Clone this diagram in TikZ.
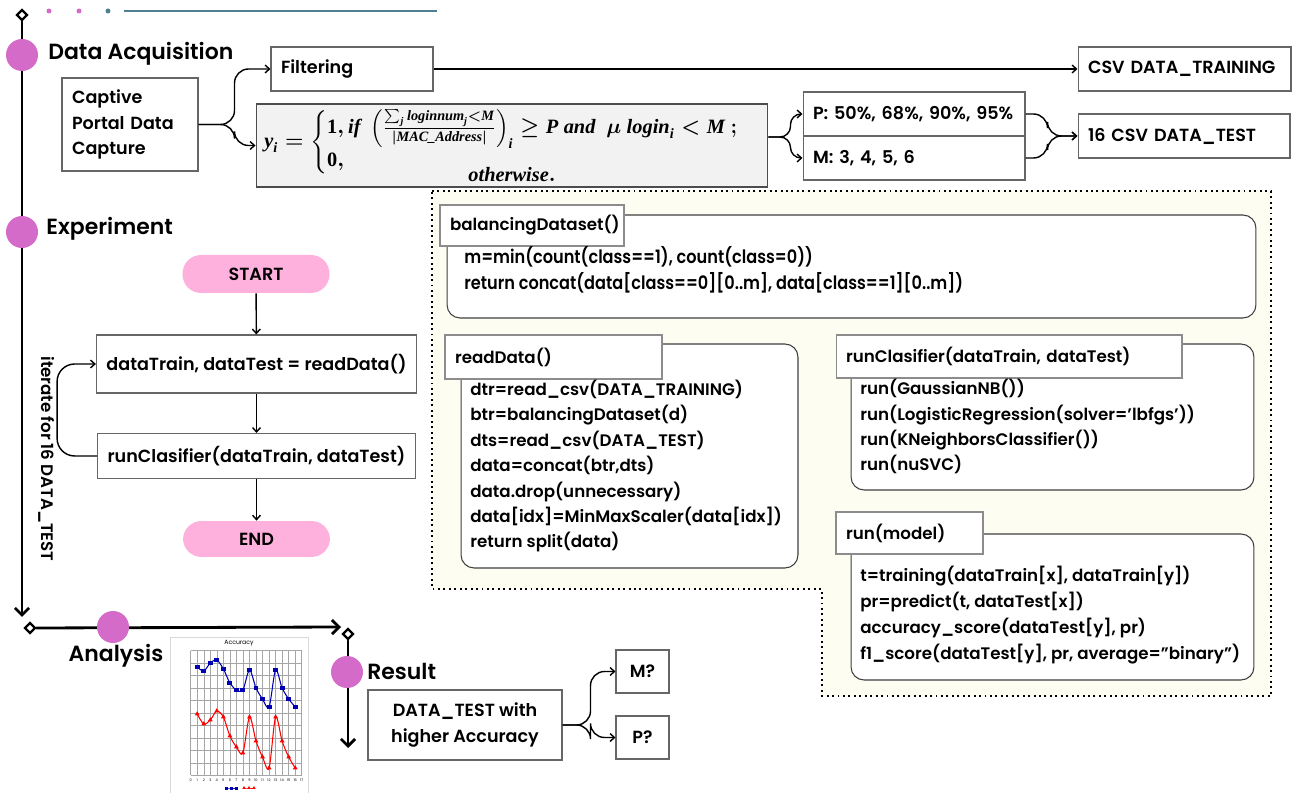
\documentclass[tikz,border=0pt]{standalone}
\usepackage[no-math]{fontspec}
\usepackage{amsmath}
\usepackage{graphicx}
\IfFontExistsTF{Poppins SemiBold}{\setmainfont{Poppins}[BoldFont={Poppins SemiBold}]}{\setmainfont{Poppins}}
\newfontfamily\formfont{Liberation Serif}
\usetikzlibrary{arrows.meta,shapes.geometric,plotmarks}

\definecolor{orchid}{RGB}{212,107,200}
\definecolor{pillpink}{RGB}{255,177,221}
\definecolor{tealline}{RGB}{78,128,144}
\definecolor{cream}{RGB}{254,253,242}
\definecolor{formgray}{RGB}{242,242,242}

\newcommand\headtxt{\fontsize{12.5}{15}\selectfont\bfseries}
\newcommand\boxtxt{\fontsize{10}{14.5}\selectfont\bfseries}
\newcommand\codetxt{\fontsize{9.5}{14.5}\selectfont\bfseries}
\newcommand\narrow[1]{\scalebox{0.875}[1]{#1}}
\newcommand\fv[1]{\text{\formfont\bfseries\itshape #1}}
\newcommand\fn[1]{\text{\formfont\bfseries #1}}

\tikzset{
  tl/.style={line width=1.6pt, line cap=round},
  tlarrow/.style={tl, -{Straight Barb[length=4pt,width=8pt]}},
  bigdot/.style={circle, fill=orchid, minimum size=0.64cm, inner sep=0pt},
  smalldot/.style={circle, fill=#1, minimum size=0.1cm, inner sep=0pt},
  knot/.style={diamond, draw, fill=white, line width=1.3pt, minimum size=0.22cm, inner sep=0pt},
  head/.style={font=\headtxt, inner sep=0pt},
  plainbox/.style={draw=black!60, fill=white, line width=0.6pt, font=\boxtxt, inner xsep=0.2cm, inner ysep=0pt},
  pill/.style={fill=pillpink, rounded corners=0.37cm, font=\boxtxt, inner sep=0pt},
  conn/.style={line width=0.8pt, -{Straight Barb[length=2.5pt,width=4.5pt]}},
  codeframe/.style={draw=black!75, fill=white, line width=0.6pt, rounded corners=0.26cm},
  codetitle/.style={draw=black!45, fill=white, line width=0.6pt, font=\codetxt, align=left, inner xsep=0.2cm, inner ysep=0pt},
  codetext/.style={font=\codetxt, align=left, inner sep=0pt},
}

\begin{document}
\begin{tikzpicture}[x=0.02cm, y=-0.02cm]
  \useasboundingbox (0,0) rectangle (1292,793);

  %%%%% timeline %%%%%
  \node[smalldot=orchid] at (49,11) {};
  \node[smalldot=orchid] at (79,11) {};
  \node[smalldot=tealline] at (108,11) {};
  \draw[tealline, line width=0.8pt] (124,11) -- (437,11);

  \coordinate (tlend) at (22,617);
  \coordinate (hend) at (341,627);
  \coordinate (rend) at (348,748);
  \node[knot] (k1) at (22,15) {};
  \draw[tlarrow] (k1.south) -- (tlend);
  \node[bigdot] (c1) at (22,55) {};
  \node[bigdot] (c2) at (22,232) {};
  \node[head, anchor=west] (hacq) at (48,54) {Data Acquisition};
  \node[head, anchor=west] (hexp) at (46,229) {Experiment};

  \node[knot] (k2) at (30,628) {};
  \draw[tlarrow] (k2.east) -- (hend);
  \node[bigdot] (c3) at (113,627) {};
  \node[head] (hana) at (116,656) {Analysis};

  \node[knot] (k3) at (348,634) {};
  \draw[tlarrow] (k3.south) -- (rend);
  \node[bigdot] (c4) at (347,672) {};
  \node[head, anchor=west] (hres) at (367,671) {Result};

  %%%%% data acquisition %%%%%
  \node[plainbox, text width=2.32cm, minimum height=1.86cm, align=left] (cap) at (130,124.5) {Captive\\Portal Data\\Capture};
  \node[plainbox, text width=2.84cm, minimum height=0.88cm, align=left] (filt) at (352,69) {Filtering};
  \node[plainbox, text width=3.86cm, minimum height=0.88cm, align=left] (train) at (1184.5,69) {CSV DATA\_TRAINING};
  \node[draw=black!70, fill=formgray, line width=0.6pt, minimum width=10.24cm, minimum height=1.66cm, align=center, inner sep=0pt, font=\fontsize{11.6}{12.5}\selectfont] (form) at (512,145.5)
    {{\boldmath$\fv{y}_{\fv{i}}=\begin{cases}\fn{1}, \fv{if}\ \left(\frac{\sum_{\fv{j}} \fv{loginnum}_{\fv{j}}<\fv{M}}{|\fv{MAC\_Address}|}\right)_{\fv{i}} \geq \fv{P}\ \fv{and}\ \ \mu\ \fv{login}_{\fv{i}} < \fv{M}\ ;\\ \fn{0},\end{cases}$}\\[-5pt]{\boldmath$\fv{otherwise}.$}};
  \node[plainbox, text width=4.04cm, minimum height=0.88cm, align=left] (pbox) at (914,114) {P: 50\%, 68\%, 90\%, 95\%};
  \node[plainbox, text width=4.04cm, minimum height=0.88cm, align=left] (mbox) at (914,158) {M: 3, 4, 5, 6};
  \node[plainbox, text width=3.84cm, minimum height=0.88cm, align=left] (test) at (1184,136) {16 CSV DATA\_TEST};

  \draw[conn, rounded corners=8pt] (cap.east) -- ++(36,0) |- (filt.west);
  \draw[conn, rounded corners=8pt] (cap.east) -- ++(36,0) |- (form.west);
  \draw[conn] (filt.east) -- (train.west);
  \draw[conn, rounded corners=6pt] ([yshift=0.17cm]form.east) -- ++(22,0) |- (pbox.west);
  \draw[conn, rounded corners=6pt] ([yshift=0.17cm]form.east) -- ++(22,0) |- (mbox.west);
  \draw[conn, rounded corners=8pt] (pbox.east) -- ++(22,0) |- (test.west);
  \draw[conn, rounded corners=8pt] (mbox.east) -- ++(22,0) |- (test.west);

  %%%%% experiment flow %%%%%
  \node[pill, minimum width=2.94cm, minimum height=0.76cm] (start) at (256,274) {START};
  \node[plainbox, minimum width=6.34cm, minimum height=1.16cm] (rd) at (256.5,364) {dataTrain, dataTest = readData()};
  \node[plainbox, minimum width=6.34cm, minimum height=0.9cm] (rc) at (256.5,456) {runClasifier(dataTrain, dataTest)};
  \node[pill, minimum width=2.94cm, minimum height=0.72cm] (stop) at (256.5,539) {END};
  \draw[conn] (start) -- (rd);
  \draw[conn] (rd) -- (rc);
  \draw[conn] (rc) -- (stop);
  \draw[conn, rounded corners=10pt] (rc.west) -- ++(-40,0) |- (rd.west);
  \node[font=\codetxt, rotate=-90, inner sep=0pt] (iter) at (47,459) {iterate for 16 DATA\_TEST};

  %%%%% code frame %%%%%
  \draw[dotted, line width=1.1pt, fill=cream] (432,191) -- (1271,191) -- (1271,696) -- (822,696) -- (822,589) -- (432,589) -- cycle;

  \node[codeframe, minimum width=16.18cm, minimum height=2.06cm] (bal) at (851.5,266.5) {};
  \node[codetitle, text width=3.28cm, minimum height=0.82cm] (baltit) at (532,225.5) {balancingDataset()};
  \node[codetext, anchor=base west, font=\fontsize{10.5}{14.8}\selectfont\bfseries] (baltxt) at (464,290) {\narrow{m=min(count(class==1), count(class=0))}\\\narrow{return concat(data[class==0][0..m], data[class==1][0..m])}};

  \node[codeframe, minimum width=6.74cm, minimum height=4.48cm] (rdf) at (629.5,456) {};
  \node[codetitle, text width=3.94cm, minimum height=0.88cm] (rdtit) at (553.5,357) {readData()};
  \node[codetext, anchor=base west] (rdtxt) at (470,548) {dtr=read\_csv(DATA\_TRAINING)\\btr=balancingDataset(d)\\dts=read\_csv(DATA\_TEST)\\data=concat(btr,dts)\\data.drop(unnecessary)\\data[idx]=MinMaxScaler(data[idx])\\return split(data)};

  \node[codeframe, minimum width=8.06cm, minimum height=2.92cm] (rcf) at (1052.5,417) {};
  \node[codetitle, text width=6.52cm, minimum height=0.86cm] (rctit) at (1009,356.5) {runClasifier(dataTrain, dataTest)};
  \node[codetext, anchor=base west] (rctxt) at (860,471) {run(GaussianNB())\\run(LogisticRegression(solver=’lbfgs’))\\run(KNeighborsClassifier())\\run(nuSVC)};

  \node[codeframe, minimum width=8.06cm, minimum height=2.92cm] (mdf) at (1052.5,607) {};
  \node[codetitle, text width=2.54cm, minimum height=0.84cm] (mdtit) at (909.5,533) {run(model)};
  \node[codetext, anchor=base west, font=\fontsize{9.5}{14.8}\selectfont\bfseries] (mdtxt) at (860,660) {t=training(dataTrain[x], dataTrain[y])\\pr=predict(t, dataTest[x])\\accuracy\_score(dataTest[y], pr)\\f1\_score(dataTest[y], pr, average=”binary”)};

  %%%%% analysis chart %%%%%
  \draw[black!15, fill=white, line width=0.4pt] (170,637) rectangle (308,793);
  \foreach \i in {0,...,17}
    \draw[black!35, line width=0.25pt] ({190.7+\i*6.53},650.7) -- ({190.7+\i*6.53},775.3);
  \foreach \j in {0,...,10}
    \draw[black!35, line width=0.25pt] (190.7,{650.7+\j*12.46}) -- (301.7,{650.7+\j*12.46});
  \foreach \i in {0,...,17}
    \node[font=\fontsize{2}{2}\selectfont, inner sep=0pt] at ({190.7+\i*6.53},780) {\i};
  \node[font=\fontsize{3.5}{4}\selectfont, inner sep=0pt] (acc) at (239,643) {Accuracy};
  \draw[blue!70!black, line width=0.6pt] plot[smooth, mark=square*, mark size=1.1pt] coordinates {(197.2,667) (203.8,671) (210.3,663) (216.8,660) (223.4,669) (229.9,683) (236.4,690) (242.9,690) (249.5,670) (256,688) (262.5,699) (269.1,707) (275.6,670) (282.1,688) (288.7,699) (295.2,707)};
  \draw[red, line width=0.6pt] plot[smooth, mark=triangle*, mark size=1pt] coordinates {(197.2,714) (203.8,724) (210.3,720) (216.8,711) (223.4,717) (229.9,736) (236.4,747) (242.9,753) (249.5,717) (256,741) (262.5,757) (269.1,768) (275.6,717) (282.1,741) (288.7,757) (295.2,768)};
  \draw[blue!70!black, line width=0.5pt] plot[mark=square*, mark size=0.6pt] coordinates {(226,788) (231,788) (236,788)};
  \draw[red, line width=0.5pt] plot[mark=triangle*, mark size=0.6pt] coordinates {(244,788) (249,788) (254,788)};

  %%%%% result %%%%%
  \node[plainbox, minimum width=3.88cm, minimum height=1.4cm, align=center] (res) at (465,725) {DATA\_TEST with\\higher Accuracy};
  \node[plainbox, inner xsep=0pt, minimum width=1.06cm, minimum height=0.86cm] (mq) at (642.5,671.5) {M?};
  \node[plainbox, inner xsep=0pt, minimum width=1.06cm, minimum height=0.86cm] (pq) at (642.5,737.5) {P?};
  \draw[conn, rounded corners=8pt] (res.east) -- ++(28,0) |- (mq.west);
  \draw[conn, rounded corners=8pt] (res.east) -- ++(28,0) |- (pq.west);
\end{tikzpicture}
\end{document}
